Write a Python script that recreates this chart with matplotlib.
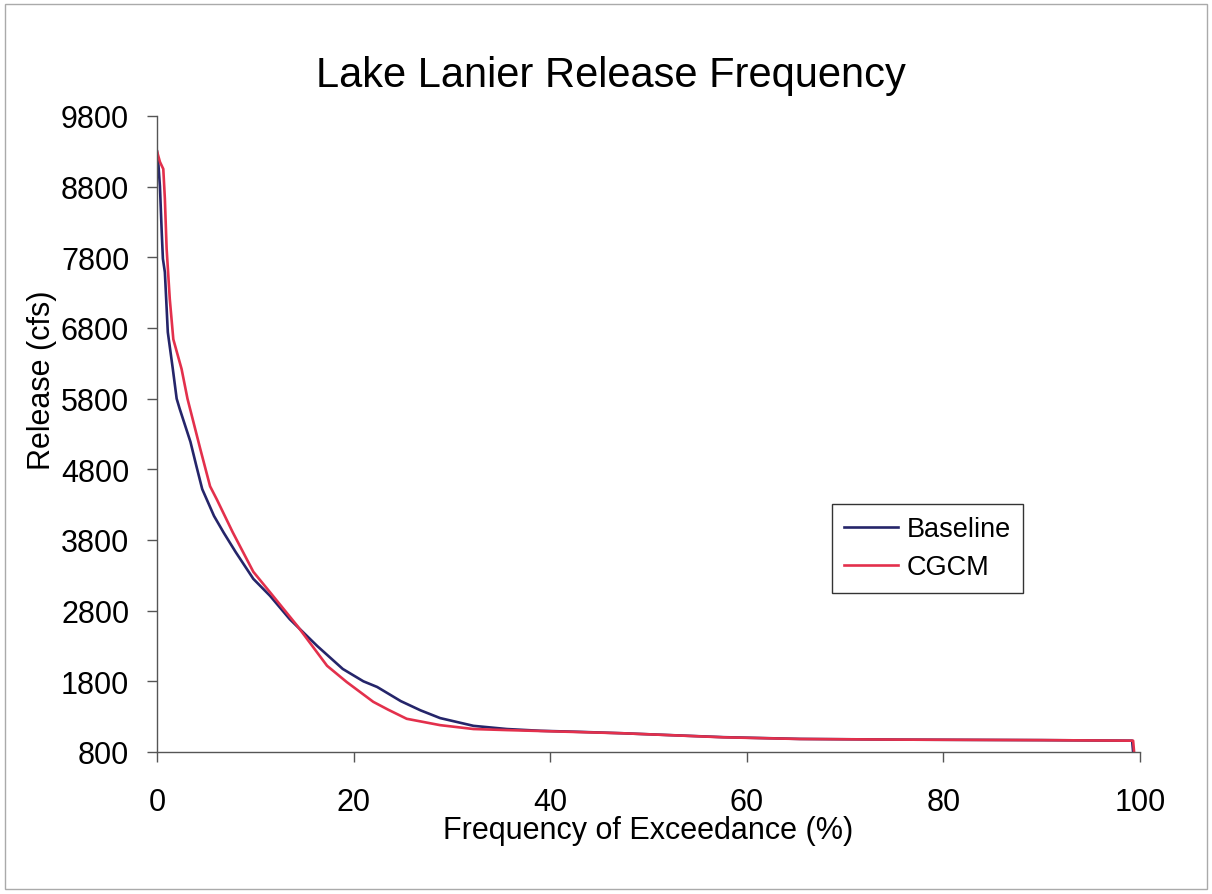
import matplotlib.pyplot as plt
from matplotlib.patches import Rectangle
import numpy as np

plt.rcParams['font.family'] = ['Liberation Sans', 'DejaVu Sans']

# Frequency of exceedance (%) and release (cfs)
base_x = [0.0, 0.15, 0.3, 0.48, 0.6, 0.8, 1.1, 1.6, 2.0, 2.3, 3.4, 4.0, 4.6, 5.8, 6.8, 8.0, 9.8,
          11.5, 13.5, 16.3, 18.9, 21.0, 22.4, 24.8, 26.8, 28.8, 32.2, 35.6, 39.0, 43.0,
          47.4, 52.0, 57.6, 65.4, 75.6, 90.0, 99.2, 99.3]
base_y = [9300, 9100, 8800, 8160, 7780, 7590, 6740, 6230, 5800, 5660, 5190, 4850, 4520, 4140, 3900, 3630, 3250,
          3010, 2680, 2300, 1975, 1800, 1720, 1520, 1390, 1280, 1170, 1125, 1100, 1085,
          1065, 1040, 1010, 985, 975, 968, 960, 800]

cgcm_x = [0.0, 0.3, 0.64, 0.8, 0.98, 1.3, 1.66, 2.5, 3.1, 4.4, 5.4, 6.1, 7.7, 9.8,
          11.5, 14.3, 17.3, 19.3, 22.0, 23.5, 25.4, 28.8, 32.2, 35.6, 39.0, 47.4,
          57.6, 65.4, 75.6, 90.0, 99.3, 99.4]
cgcm_y = [9300, 9150, 9050, 8630, 7920, 7210, 6640, 6220, 5800, 5090, 4560, 4370, 3910, 3350,
          3060, 2580, 2020, 1790, 1510, 1400, 1270, 1180, 1125, 1110, 1097, 1065,
          1008, 984, 975, 968, 960, 800]

W, H = 1212, 895
fig = plt.figure(figsize=(W / 100, H / 100), dpi=100)
ax = fig.add_axes([157 / W, 1 - 753 / H, (1140 - 157) / W, (753 - 117) / H])

ax.plot(base_x, base_y, color='#25256a', lw=1.9, label='Baseline')
ax.plot(cgcm_x, cgcm_y, color='#e3304c', lw=1.9, label='CGCM')

ax.set_xlim(0, 100)
ax.set_ylim(800, 9800)
ax.set_xticks(np.arange(0, 101, 20))
ax.set_yticks(np.arange(800, 9801, 1000))
ax.tick_params(labelsize=22, length=7, width=1, color='#555555', direction='out')
ax.tick_params(axis='y', pad=13)
ax.tick_params(axis='x', pad=18)
for s in ['top', 'right']:
    ax.spines[s].set_visible(False)
for s in ['left', 'bottom']:
    ax.spines[s].set_color('#555555')
    ax.spines[s].set_linewidth(1)

fig.text(611 / W, 1 - 76 / H, 'Lake Lanier Release Frequency', fontsize=30,
         ha='center', va='center')
fig.text(648 / W, 1 - 831 / H, 'Frequency of Exceedance (%)', fontsize=22,
         ha='center', va='center')
fig.text(42 / W, 1 - 380 / H, 'Release (cfs)', fontsize=22, rotation=90,
         ha='center', va='center')

leg = ax.legend(loc='upper left', bbox_to_anchor=(0.6867, 0.390), borderaxespad=0,
                fontsize=19.5, fancybox=False, shadow=False, handlelength=2.0,
                handletextpad=0.3, borderpad=0.45, labelspacing=0.45, framealpha=1)
leg.get_frame().set_edgecolor('#333333')
leg.get_frame().set_linewidth(1)

fig.patches.append(Rectangle((5 / W, 5 / H), (W - 10) / W, (H - 10) / H,
                             transform=fig.transFigure, fill=False,
                             edgecolor='#aaaaaa', lw=1))

fig.savefig('out.png', dpi=100)
